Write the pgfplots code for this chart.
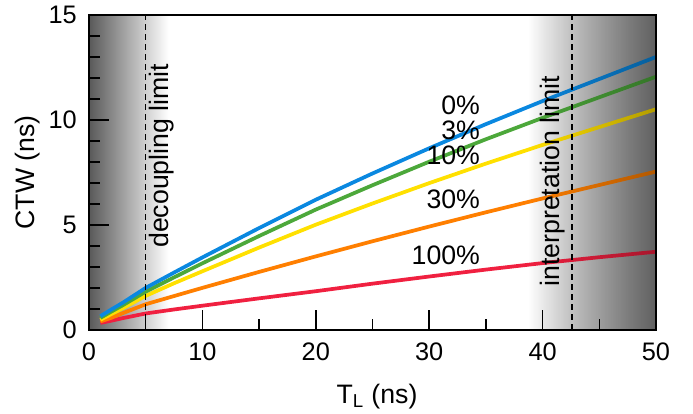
\documentclass[border=0pt]{standalone}
\usepackage{fontspec}
\setmainfont{Liberation Sans}
\usepackage{pgfplots}
\pgfplotsset{compat=1.18}
\definecolor{cblue}{HTML}{0A88E0}
\definecolor{cgreen}{HTML}{4CA83A}
\definecolor{cyellow}{HTML}{FFE000}
\definecolor{corange}{HTML}{FF7F00}
\definecolor{cred}{HTML}{F02040}

\begin{document}
\begin{tikzpicture}
\begin{axis}[
    scale only axis,
    width=425pt, height=236pt,
    xmin=0, xmax=50, ymin=0, ymax=15,
    xtick={0,10,...,50}, minor x tick num=1,
    ytick={0,5,10,15}, minor y tick num=4,
    tick align=inside, tick pos=left,
    major tick length=15pt, minor tick length=8pt,
    every tick/.style={black, line width=1.1pt},
    axis line style={line width=1.4pt},
    axis on top,
    /pgf/number format/assume math mode=true,
    tick label style={font=\fontsize{19}{23}\selectfont, inner sep=0pt},
    xticklabel style={yshift=-9.75pt},
    yticklabel style={xshift=-9pt},
    label style={font=\fontsize{20}{24}\selectfont},
    xlabel={T\textsubscript{L} (ns)},
    ylabel={CTW (ns)},
    xlabel style={at={(rel axis cs:0.508,-0.235)}, anchor=base},
    ylabel style={at={(rel axis cs:-0.1076,0.5)}, anchor=center},
]
% shaded limits
\shade[left color=black!65, right color=white] (axis cs:0,0) rectangle (axis cs:7,15);
\shade[left color=white, right color=black!46] (axis cs:38.7,0) rectangle (axis cs:50,15);

% 100%
\addplot[cred, line width=2.8pt] coordinates {
    (1,0.33) (2,0.44) (3,0.56) (5,0.78) (7.5,0.97) (10,1.15) (15,1.50) (20,1.84)
    (25,2.20) (30,2.54) (35,2.87) (40,3.18) (45,3.46) (50,3.72)
};
% 30%
\addplot[corange, line width=2.8pt] coordinates {
    (1,0.40) (2,0.58) (3,0.80) (5,1.22) (7.5,1.61) (10,2.00) (15,2.76) (20,3.50)
    (25,4.22) (30,4.92) (35,5.60) (40,6.26) (45,6.90) (50,7.54)
};
% 10%
\addplot[cyellow, line width=2.8pt] coordinates {
    (1,0.48) (2,0.76) (3,1.03) (5,1.62) (7.5,2.22) (10,2.79) (15,3.92) (20,5.01)
    (25,6.02) (30,6.99) (35,7.92) (40,8.81) (45,9.66) (50,10.51)
};
% 3%
\addplot[cgreen, line width=2.8pt] coordinates {
    (1,0.57) (2,0.88) (3,1.18) (5,1.82) (7.5,2.50) (10,3.17) (15,4.47) (20,5.73)
    (25,6.89) (30,8.01) (35,9.08) (40,10.10) (45,11.08) (50,12.06)
};
% 0%
\addplot[cblue, line width=2.8pt] coordinates {
    (1,0.65) (2,0.98) (3,1.30) (5,2.00) (7.5,2.73) (10,3.45) (15,4.85) (20,6.20)
    (25,7.45) (30,8.65) (35,9.80) (40,10.90) (45,11.95) (50,13.00)
};

% darken the curves (and the background) inside the right region
\begin{scope}[blend mode=multiply]
\shade[left color=white, right color=black!30] (axis cs:38.7,0) rectangle (axis cs:50,15);
\end{scope}

\draw[black, line width=1.1pt, dash pattern=on 4.5pt off 3pt] (axis cs:5,0) -- (axis cs:5,15);
\draw[black, line width=1.1pt, dash pattern=on 4.5pt off 3pt] (axis cs:42.6,0) -- (axis cs:42.6,15);

\node[rotate=90, anchor=base west, inner sep=0pt, font=\fontsize{20}{24}\selectfont] at (axis cs:7.05,3.9) {decoupling limit};
\node[rotate=90, anchor=base west, inner sep=0pt, font=\fontsize{20}{24}\selectfont] at (axis cs:41.45,2.05) {interpretation limit};

\node[anchor=base east, inner sep=0pt, font=\fontsize{20}{24}\selectfont] at (axis cs:34.5,10.24) {0\%};
\node[anchor=base east, inner sep=0pt, font=\fontsize{20}{24}\selectfont] at (axis cs:34.5,9.05) {3\%};
\node[anchor=base east, inner sep=0pt, font=\fontsize{20}{24}\selectfont] at (axis cs:34.5,7.86) {10\%};
\node[anchor=base east, inner sep=0pt, font=\fontsize{20}{24}\selectfont] at (axis cs:34.5,5.80) {30\%};
\node[anchor=base east, inner sep=0pt, font=\fontsize{20}{24}\selectfont] at (axis cs:34.5,3.10) {100\%};
\end{axis}
\path (current axis.south west) +(-66.75pt,-63pt) (current axis.north east) +(27.75pt,11.25pt);
\end{tikzpicture}
\end{document}
